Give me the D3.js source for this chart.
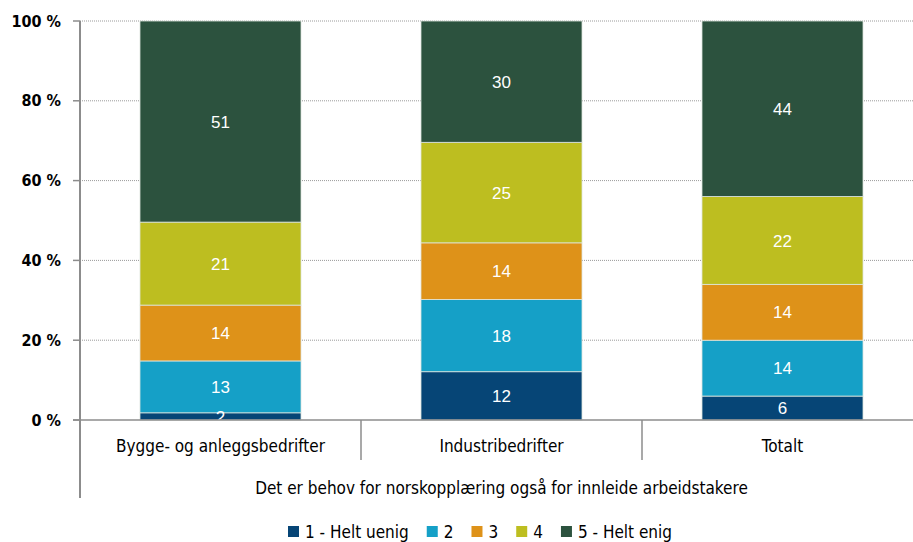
<!DOCTYPE html>
<html>
<head>
<meta charset="utf-8">
<script src="https://cdn.jsdelivr.net/npm/d3@7"></script>
<style>
  body { margin: 0; background: #fff; }
  svg { font-family: "DejaVu Sans Condensed", "DejaVu Sans", sans-serif; }
</style>
</head>
<body>
<div id="chart"></div>
<script>
// data
const categories = ["Bygge- og anleggsbedrifter", "Industribedrifter", "Totalt"];
const seriesNames = ["1 - Helt uenig", "2", "3", "4", "5 - Helt enig"];
const seriesColors = ["#064576", "#15a0c7", "#de9219", "#bdbe20", "#2c523e"];
const v1 = [1.8, 12.1, 6];
const v2 = [13, 18.1, 14];
const v3 = [14, 14.2, 14];
const v4 = [20.8, 25.2, 22];
const v5 = [51, 30.4, 44];
const yTicks = [0, 20, 40, 60, 80, 100];
const axisTitle = "Det er behov for norskopplæring også for innleide arbeidstakere";

const width = 913, height = 542;
const plotLeft = 80, plotRight = 923, plotTop = 21, plotBottom = 420;

const svg = d3.select("#chart").append("svg")
    .attr("width", width).attr("height", height);

svg.append("clipPath").attr("id", "plotclip")
    .append("rect")
    .attr("x", plotLeft).attr("y", plotTop)
    .attr("width", plotRight - plotLeft).attr("height", plotBottom - plotTop);

const x = d3.scaleBand().domain(categories).range([plotLeft, plotRight]).padding(0);
const y = d3.scaleLinear().domain([0, 100]).range([plotBottom, plotTop]).clamp(true);
const barW = x.bandwidth() * 0.573;

// gridlines
svg.append("g").selectAll("line")
    .data(yTicks.filter(d => d > 0))
    .join("line")
    .attr("x1", plotLeft).attr("x2", width)
    .attr("y1", d => y(d)).attr("y2", d => y(d))
    .attr("stroke", "#9a9a9a")
    .attr("stroke-width", 1)
    .attr("stroke-dasharray", "1,1");

// stacked bars
const rows = categories.map((c, i) => ({ cat: c, s0: v1[i], s1: v2[i], s2: v3[i], s3: v4[i], s4: v5[i] }));
const keys = ["s0", "s1", "s2", "s3", "s4"];
const stacked = d3.stack().keys(keys)(rows);

svg.append("g").selectAll("g")
    .data(stacked)
    .join("g")
    .attr("fill", (d, i) => seriesColors[i])
    .selectAll("rect")
    .data(d => d)
    .join("rect")
    .attr("x", d => x(d.data.cat) + (x.bandwidth() - barW) / 2)
    .attr("y", d => y(d[1]))
    .attr("width", barW)
    .attr("height", d => y(d[0]) - y(d[1]))
    .attr("stroke", "#dfe6df")
    .attr("stroke-width", 0.8);

// value labels on top of all bars
svg.append("g").attr("clip-path", "url(#plotclip)")
    .selectAll("g")
    .data(stacked)
    .join("g")
    .selectAll("text")
    .data(d => d)
    .join("text")
    .attr("x", d => x(d.data.cat) + x.bandwidth() / 2)
    .attr("y", d => (y(d[0]) + y(d[1])) / 2)
    .attr("dy", "0.36em")
    .attr("text-anchor", "middle")
    .attr("fill", "#fff")
    .style("font-family", "'Liberation Sans', Arial, sans-serif")
    .style("font-size", "17px")
    .text(d => Math.round(d[1] - d[0]));

// axes lines
const axisColor = "#8c8c8c";
svg.append("line")
    .attr("x1", plotLeft).attr("x2", plotLeft)
    .attr("y1", plotTop).attr("y2", 498)
    .attr("stroke", axisColor).attr("stroke-width", 2);
svg.append("line")
    .attr("x1", 73).attr("x2", width)
    .attr("y1", plotBottom).attr("y2", plotBottom)
    .attr("stroke", axisColor).attr("stroke-width", 1.5);

// y ticks + labels
svg.append("g").selectAll("line")
    .data(yTicks)
    .join("line")
    .attr("x1", 73).attr("x2", plotLeft)
    .attr("y1", d => y(d)).attr("y2", d => y(d))
    .attr("stroke", axisColor).attr("stroke-width", 1.5);

svg.append("g").selectAll("text")
    .data(yTicks)
    .join("text")
    .attr("x", 61)
    .attr("y", d => y(d))
    .attr("dy", "0.35em")
    .attr("text-anchor", "end")
    .style("font-size", "16px")
    .style("font-weight", "bold")
    .attr("fill", "#000")
    .text(d => d + " %");

// category separators
svg.append("g").selectAll("line")
    .data(categories.slice(1))
    .join("line")
    .attr("x1", d => x(d)).attr("x2", d => x(d))
    .attr("y1", plotBottom).attr("y2", 460)
    .attr("stroke", axisColor).attr("stroke-width", 1.5);

// category labels
svg.append("g").selectAll("text")
    .data(categories)
    .join("text")
    .attr("x", d => x(d) + x.bandwidth() / 2)
    .attr("y", 452)
    .attr("text-anchor", "middle")
    .style("font-size", "17px")
    .attr("fill", "#000")
    .text(d => d);

svg.append("text")
    .attr("x", (plotLeft + plotRight) / 2)
    .attr("y", 494)
    .attr("text-anchor", "middle")
    .style("font-size", "17px")
    .attr("fill", "#000")
    .text(axisTitle);

// legend
const legend = svg.append("g").attr("transform", "translate(288,538)");
let lx = 0;
seriesNames.forEach((name, i) => {
    const item = legend.append("g").attr("transform", `translate(${lx},0)`);
    item.append("rect")
        .attr("x", 0).attr("y", -12)
        .attr("width", 11).attr("height", 11)
        .attr("fill", seriesColors[i]);
    const t = item.append("text")
        .attr("x", 17).attr("y", 0)
        .style("font-size", "17px")
        .attr("fill", "#000")
        .text(name);
    lx += 17 + t.node().getComputedTextLength() + 18;
});
</script>
</body>
</html>
